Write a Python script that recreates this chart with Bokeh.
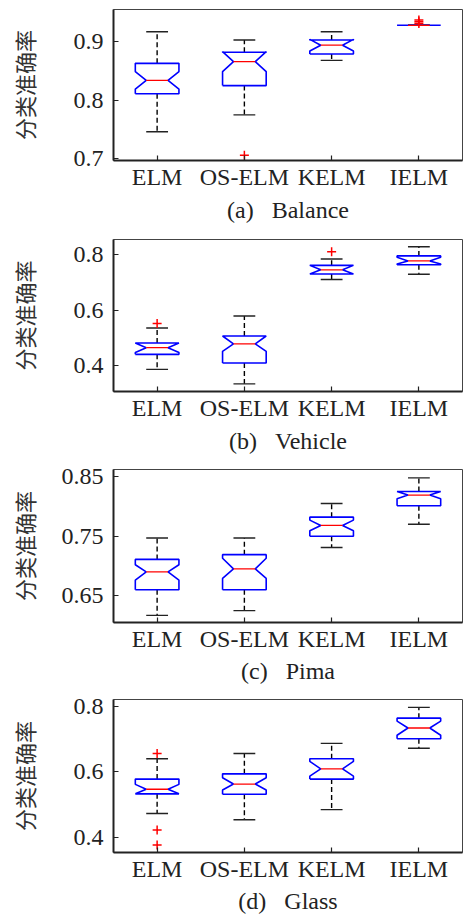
from bokeh.plotting import figure
from bokeh.layouts import column
from bokeh.models import FixedTicker, Range1d
from bokeh.embed import file_html
from bokeh.resources import INLINE

categories = ["ELM", "OS-ELM", "KELM", "IELM"]
y_label = "分类准确率"

# ---- (a) Balance ----
a_caption = "(a)\u00a0\u00a0\u00a0Balance"
a_upper = [0.917, 0.903, 0.917, 0.928]
a_q3 = [0.863, 0.882, 0.903, 0.928]
a_notch_hi = [0.849, 0.883, 0.904, 0.928]
a_median = [0.834, 0.866, 0.894, 0.928]
a_notch_lo = [0.819, 0.849, 0.884, 0.928]
a_q1 = [0.811, 0.825, 0.879, 0.928]
a_lower = [0.746, 0.775, 0.868, 0.928]
a_out_cat = [2, 4, 4, 4]
a_out_val = [0.706, 0.931, 0.934, 0.937]
a_ticks = [0.7, 0.8, 0.9]
a_range = (0.697, 0.955)

# ---- (b) Vehicle ----
b_caption = "(b)\u00a0\u00a0\u00a0Vehicle"
b_upper = [0.536, 0.579, 0.784, 0.828]
b_q3 = [0.482, 0.507, 0.761, 0.795]
b_notch_hi = [0.482, 0.507, 0.761, 0.790]
b_median = [0.465, 0.479, 0.745, 0.777]
b_notch_lo = [0.448, 0.452, 0.730, 0.766]
b_q1 = [0.441, 0.410, 0.730, 0.763]
b_lower = [0.387, 0.335, 0.710, 0.729]
b_out_cat = [1, 3]
b_out_val = [0.552, 0.810]
b_ticks = [0.4, 0.6, 0.8]
b_range = (0.3075, 0.854)

# ---- (c) Pima ----
c_caption = "(c)\u00a0\u00a0\u00a0Pima"
c_upper = [0.747, 0.747, 0.805, 0.848]
c_q3 = [0.711, 0.719, 0.782, 0.825]
c_notch_hi = [0.702, 0.713, 0.777, 0.825]
c_median = [0.690, 0.695, 0.768, 0.819]
c_notch_lo = [0.676, 0.679, 0.759, 0.813]
c_q1 = [0.660, 0.660, 0.750, 0.801]
c_lower = [0.617, 0.625, 0.731, 0.770]
c_out_cat = []
c_out_val = []
c_ticks = [0.65, 0.75, 0.85]
c_range = (0.605, 0.862)

# ---- (d) Glass ----
d_caption = "(d)\u00a0\u00a0\u00a0Glass"
d_upper = [0.639, 0.655, 0.686, 0.796]
d_q3 = [0.577, 0.593, 0.639, 0.763]
d_notch_hi = [0.561, 0.581, 0.631, 0.754]
d_median = [0.546, 0.562, 0.608, 0.733]
d_notch_lo = [0.532, 0.544, 0.586, 0.711]
d_q1 = [0.532, 0.531, 0.577, 0.700]
d_lower = [0.472, 0.453, 0.484, 0.671]
d_out_cat = [1, 1, 1]
d_out_val = [0.655, 0.422, 0.376]
d_ticks = [0.4, 0.6, 0.8]
d_range = (0.353, 0.820)

SERIF = "Liberation Serif"
CJK = "Noto Sans CJK SC"
X_RANGE = (0.5, 4.5)
HALF_W = 0.25      # half box width (x units)
INDENT = 0.125     # notch indentation
CAP = 0.125        # half cap width


def make_panel(caption, upper, q3, nhi, med, nlo, q1, lower, out_cat, out_val,
               ticks, yr, border_top, frame_h, border_bottom, label_standoff,
               cap_standoff):
    p = figure(width=464, height=border_top + frame_h + border_bottom,
               x_range=Range1d(*X_RANGE),
               y_range=Range1d(*yr), output_backend="svg",
               toolbar_location=None, min_border_left=113,
               min_border_right=2, min_border_top=border_top,
               min_border_bottom=border_bottom)
    p.xgrid.visible = False
    p.ygrid.visible = False
    p.outline_line_color = "#444444"
    p.outline_line_width = 1
    p.background_fill_color = "white"

    xs = list(range(1, len(categories) + 1))

    # whiskers (dashed)
    p.segment(x0=xs, y0=q3, x1=xs, y1=upper, line_color="black",
              line_width=1.4, line_dash="5 3")
    p.segment(x0=xs, y0=q1, x1=xs, y1=lower, line_color="black",
              line_width=1.4, line_dash="5 3")
    # caps
    p.segment(x0=[x - CAP for x in xs], y0=upper, x1=[x + CAP for x in xs],
              y1=upper, line_color="#222222", line_width=1.4)
    p.segment(x0=[x - CAP for x in xs], y0=lower, x1=[x + CAP for x in xs],
              y1=lower, line_color="#222222", line_width=1.4)

    # notched boxes
    bx, by = [], []
    for x, a, b, c, d, e in zip(xs, q3, nhi, med, nlo, q1):
        L, R = x - HALF_W, x + HALF_W
        bx.append([L, L, L + INDENT, L, L, R, R, R - INDENT, R, R, L])
        by.append([e, d, c, b, a, a, b, c, d, e, e])
    p.multi_line(xs=bx, ys=by, line_color="#0000ff", line_width=1.6)

    # medians
    p.segment(x0=[x - INDENT for x in xs], y0=med, x1=[x + INDENT for x in xs],
              y1=med, line_color="#ff0000", line_width=1.3)

    # outliers
    if out_cat:
        p.scatter(x=out_cat, y=out_val, marker="cross", size=9,
                  line_color="#ff0000", line_width=1.5)

    # axes
    for ax in (p.xaxis[0], p.yaxis[0]):
        ax.axis_line_width = 2
        ax.axis_line_color = "#222222"
        ax.major_tick_in = 5
        ax.major_tick_out = 0
        ax.major_tick_line_color = "#222222"
        ax.major_tick_line_width = 1.2
        ax.minor_tick_line_color = None
        ax.major_label_text_font = SERIF
        ax.major_label_text_font_size = "24px"
        ax.major_label_text_color = "#222222"

    p.xaxis.ticker = FixedTicker(ticks=xs)
    p.xaxis.major_label_overrides = {x: c for x, c in zip(xs, categories)}
    p.xaxis.major_label_standoff = 3
    p.xaxis.axis_label = caption
    p.xaxis.axis_label_text_font = SERIF
    p.xaxis.axis_label_text_font_size = "24px"
    p.xaxis.axis_label_text_font_style = "normal"
    p.xaxis.axis_label_text_color = "#222222"
    p.xaxis.axis_label_text_line_height = 0.8
    p.xaxis.axis_label_standoff = cap_standoff

    p.yaxis.ticker = FixedTicker(ticks=ticks)
    p.yaxis.major_label_overrides = {t: f"{t:g}" for t in ticks}
    p.yaxis.major_label_standoff = 10
    p.yaxis.axis_label = y_label
    p.yaxis.axis_label_text_font = CJK
    p.yaxis.axis_label_text_font_size = "22px"
    p.yaxis.axis_label_text_font_style = "normal"
    p.yaxis.axis_label_text_color = "#333333"
    p.yaxis.axis_label_standoff = label_standoff
    return p


pa = make_panel(a_caption, a_upper, a_q3, a_notch_hi, a_median, a_notch_lo,
                a_q1, a_lower, a_out_cat, a_out_val, a_ticks, a_range,
                9, 151, 70, 31, 4)
pb = make_panel(b_caption, b_upper, b_q3, b_notch_hi, b_median, b_notch_lo,
                b_q1, b_lower, b_out_cat, b_out_val, b_ticks, b_range,
                9, 152, 69, 31, 4)
pc = make_panel(c_caption, c_upper, c_q3, c_notch_hi, c_median, c_notch_lo,
                c_q1, c_lower, c_out_cat, c_out_val, c_ticks, c_range,
                9, 153, 68, 19, 3)
pd_ = make_panel(d_caption, d_upper, d_q3, d_notch_hi, d_median, d_notch_lo,
                 d_q1, d_lower, d_out_cat, d_out_val, d_ticks, d_range,
                 9, 153, 64, 31, 3)

layout = column(pa, pb, pc, pd_, spacing=0)
open("out.html", "w").write(file_html(layout, INLINE))
